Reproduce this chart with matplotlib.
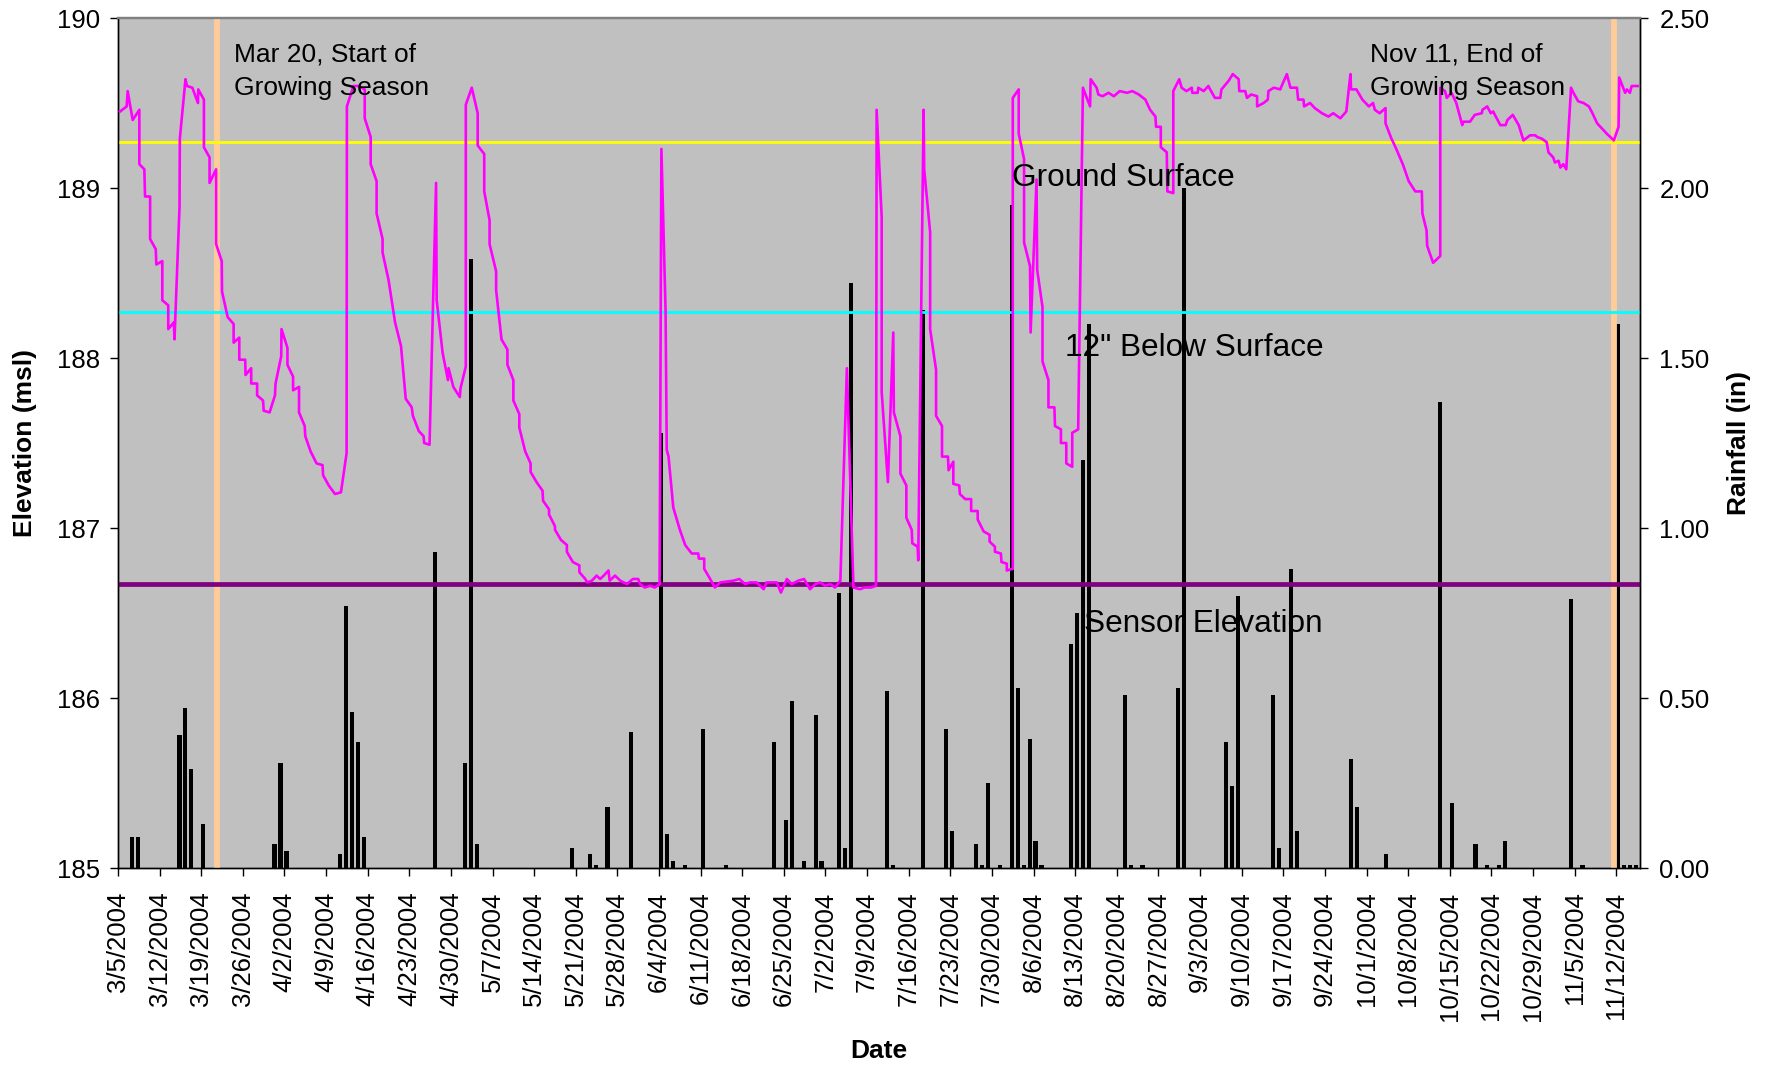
import datetime as dt
import matplotlib
matplotlib.use("Agg")
import matplotlib.pyplot as plt

plt.rcParams['font.family'] = ['Liberation Sans', 'DejaVu Sans']

START = dt.date(2004, 3, 5)
DAYS_SHOWN = 256

# Water table elevation (ft msl) vs. days since START
level_day = [
    0.34, 1.46, 1.63, 2.47, 3.59, 3.59, 4.43, 4.55, 5.40, 5.40, 6.35, 6.45, 7.45, 7.45, 8.45, 8.45,
    9.40, 9.50, 10.35, 10.40, 11.35, 11.60, 12.50, 13.45, 13.50, 14.45, 14.45, 15.40, 15.40, 16.50,
    16.50, 17.45, 17.50, 18.45, 19.45, 19.45, 20.40, 20.40, 21.40, 21.45, 22.40, 22.40, 23.40, 23.40,
    24.40, 24.50, 25.50, 26.40, 26.50, 27.45, 27.50, 28.50, 28.50, 29.45, 29.45, 30.45, 30.45, 31.40,
    31.50, 32.40, 33.40, 34.40, 34.50, 35.45, 36.50, 37.50, 38.45, 38.50, 39.60, 40.40, 41.50, 41.50,
    42.50, 42.50, 43.50, 43.50, 44.50, 44.50, 45.50, 46.60, 47.60, 48.40, 49.40, 49.60, 50.60, 51.40,
    51.50, 52.40, 53.50, 53.60, 54.60, 55.50, 55.60, 56.40, 57.50, 57.60, 58.50, 58.50, 59.50, 60.50,
    60.50, 61.60, 61.60, 62.50, 62.50, 63.60, 63.60, 64.50, 65.50, 65.50, 66.50, 66.50, 67.50, 67.50,
    68.50, 69.40, 69.40, 70.40, 71.40, 71.50, 72.50, 72.50, 73.50, 73.50, 74.50, 75.50, 75.50, 76.50,
    77.60, 77.60, 78.60, 78.90, 79.70, 80.50, 81.10, 81.70, 82.50, 82.70, 83.60, 84.50, 85.60, 86.60,
    87.50, 87.80, 88.60, 89.50, 90.30, 91.10, 91.40, 92.10, 92.30, 92.60, 93.40, 94.50, 95.40, 96.50,
    97.60, 97.70, 98.60, 98.60, 99.60, 100.40, 101.30, 103.50, 104.50, 105.50, 106.30, 107.40, 108.60,
    109.10, 110.80, 111.50, 112.50, 113.30, 114.40, 115.40, 116.40, 117.30, 118.10, 118.90, 119.80,
    120.60, 121.50, 122.60, 123.70, 124.80, 125.60, 126.70, 127.50, 127.60, 128.45, 128.45, 129.50,
    130.40, 130.50, 131.60, 131.60, 132.60, 132.60, 133.50, 133.60, 134.50, 134.60, 135.50, 135.60,
    136.60, 136.60, 137.60, 137.60, 138.60, 138.60, 139.60, 139.70, 140.50, 140.50, 141.50, 141.60,
    142.50, 143.50, 143.50, 144.60, 144.60, 145.60, 146.60, 146.60, 147.50, 147.50, 148.50, 148.60,
    149.50, 149.50, 150.50, 150.50, 151.50, 151.50, 152.40, 152.40, 153.40, 153.50, 154.50, 154.60,
    155.50, 155.50, 156.50, 156.50, 157.50, 157.60, 158.60, 158.60, 159.50, 159.50, 160.50, 160.50,
    161.50, 162.30, 163.50, 163.60, 164.60, 164.90, 165.60, 166.60, 167.50, 168.50, 169.70, 170.60,
    171.70, 172.80, 173.60, 174.50, 174.60, 175.40, 175.40, 176.40, 176.50, 177.50, 177.50, 178.50,
    178.90, 179.70, 180.60, 180.70, 181.60, 181.70, 182.60, 183.40, 183.70, 184.50, 185.40, 185.60,
    186.80, 187.50, 188.50, 188.60, 189.60, 189.90, 190.60, 191.60, 191.60, 192.70, 193.40, 193.50,
    194.40, 195.50, 195.60, 196.60, 197.20, 198.30, 198.50, 199.40, 199.50, 200.50, 201.30, 202.50,
    203.60, 204.40, 205.60, 206.60, 207.30, 207.40, 208.30, 209.30, 210.40, 211.10, 211.40, 212.20,
    213.20, 213.20, 214.20, 215.00, 216.10, 217.10, 218.20, 219.30, 219.40, 220.10, 220.20, 221.20,
    222.40, 222.40, 223.20, 223.50, 224.30, 225.10, 226.10, 226.30, 227.40, 228.20, 229.40, 229.50,
    230.30, 230.90, 231.30, 232.50, 233.40, 233.70, 234.60, 235.60, 236.40, 237.50, 238.40, 238.70,
    239.50, 240.30, 240.60, 241.40, 241.70, 242.30, 242.60, 243.10, 243.60, 244.40, 244.80, 245.60,
    246.50, 247.40, 248.00, 248.80, 249.60, 250.40, 251.60, 252.40, 252.50, 253.50, 253.80, 254.30,
    254.60, 255.60,
]
level_elev = [
    189.45, 189.48, 189.57, 189.40, 189.46, 189.14, 189.11, 188.95, 188.95, 188.70, 188.64, 188.55,
    188.57, 188.34, 188.31, 188.17, 188.21, 188.11, 188.89, 189.29, 189.64, 189.60, 189.59, 189.50,
    189.58, 189.52, 189.24, 189.18, 189.03, 189.11, 188.67, 188.57, 188.39, 188.24, 188.20, 188.09,
    188.12, 187.99, 187.99, 187.90, 187.94, 187.85, 187.85, 187.78, 187.75, 187.69, 187.68, 187.78,
    187.85, 188.01, 188.17, 188.06, 187.96, 187.89, 187.81, 187.83, 187.68, 187.60, 187.54, 187.45,
    187.38, 187.37, 187.31, 187.25, 187.20, 187.21, 187.44, 189.48, 189.60, 189.60, 189.58, 189.41,
    189.30, 189.14, 189.04, 188.85, 188.70, 188.62, 188.46, 188.21, 188.07, 187.76, 187.71, 187.66,
    187.57, 187.54, 187.50, 187.49, 189.03, 188.34, 188.03, 187.87, 187.94, 187.83, 187.77, 187.82,
    187.95, 189.49, 189.59, 189.44, 189.25, 189.20, 188.98, 188.81, 188.67, 188.51, 188.40, 188.11,
    188.05, 187.96, 187.87, 187.75, 187.67, 187.59, 187.45, 187.38, 187.33, 187.27, 187.22, 187.16,
    187.11, 187.08, 187.01, 186.99, 186.93, 186.90, 186.86, 186.80, 186.78, 186.74, 186.70, 186.68,
    186.69, 186.72, 186.70, 186.72, 186.75, 186.69, 186.72, 186.69, 186.67, 186.70, 186.70, 186.67,
    186.65, 186.66, 186.65, 186.67, 189.23, 188.28, 187.46, 187.42, 187.12, 186.99, 186.90, 186.85,
    186.85, 186.82, 186.82, 186.76, 186.70, 186.65, 186.68, 186.69, 186.70, 186.67, 186.68, 186.68,
    186.64, 186.68, 186.68, 186.62, 186.70, 186.67, 186.69, 186.70, 186.64, 186.67, 186.68, 186.66,
    186.67, 186.65, 186.69, 187.94, 186.65, 186.64, 186.65, 186.65, 186.66, 189.46, 188.83, 187.80,
    187.27, 188.15, 187.68, 187.54, 187.32, 187.25, 187.06, 186.99, 186.91, 186.89, 186.81, 189.46,
    189.11, 188.74, 188.17, 187.93, 187.66, 187.60, 187.42, 187.42, 187.34, 187.39, 187.26, 187.25,
    187.20, 187.17, 187.17, 187.10, 187.10, 187.05, 186.98, 186.96, 186.92, 186.89, 186.86, 186.85,
    186.80, 186.79, 186.75, 186.76, 189.53, 189.58, 189.32, 189.17, 188.68, 188.54, 188.15, 189.05,
    188.52, 188.30, 187.98, 187.87, 187.71, 187.71, 187.60, 187.58, 187.50, 187.50, 187.38, 187.36,
    187.56, 187.58, 189.59, 189.48, 189.64, 189.59, 189.55, 189.54, 189.56, 189.54, 189.57, 189.56,
    189.57, 189.55, 189.52, 189.46, 189.42, 189.36, 189.36, 189.24, 189.21, 188.98, 188.97, 189.57,
    189.64, 189.59, 189.57, 189.59, 189.56, 189.56, 189.59, 189.57, 189.60, 189.58, 189.53, 189.53,
    189.58, 189.63, 189.67, 189.64, 189.57, 189.57, 189.53, 189.55, 189.54, 189.48, 189.50, 189.52,
    189.57, 189.59, 189.58, 189.59, 189.67, 189.59, 189.59, 189.52, 189.52, 189.48, 189.50, 189.47,
    189.44, 189.42, 189.44, 189.41, 189.45, 189.67, 189.58, 189.58, 189.52, 189.48, 189.50, 189.46,
    189.44, 189.47, 189.38, 189.29, 189.23, 189.14, 189.04, 188.98, 188.98, 188.85, 188.75, 188.66,
    188.56, 188.60, 189.59, 189.57, 189.53, 189.56, 189.50, 189.37, 189.39, 189.39, 189.43, 189.44,
    189.46, 189.48, 189.44, 189.45, 189.37, 189.37, 189.40, 189.43, 189.37, 189.28, 189.31, 189.31,
    189.30, 189.29, 189.27, 189.21, 189.18, 189.15, 189.16, 189.12, 189.14, 189.11, 189.59, 189.56,
    189.51, 189.50, 189.48, 189.44, 189.38, 189.35, 189.32, 189.28, 189.36, 189.65, 189.56, 189.58,
    189.56, 189.60, 189.60,
]

# Daily rainfall (in), recorded at 8 AM; day index since START
rain_day = [
    2, 3, 10, 11, 12, 14, 26, 27, 28, 37, 38, 39, 40, 41, 53, 58, 59, 60, 76, 79, 80, 82, 86,
    91, 92, 93, 95, 98, 102, 110, 112, 113, 115, 117, 118, 121, 122, 123, 129, 130, 135, 139,
    140, 144, 145, 146, 148, 150, 151, 152, 153, 154, 155, 160, 161, 162, 163, 169, 170, 172,
    178, 179, 186, 187, 188, 194, 195, 197, 198, 207, 208, 213, 222, 224, 228, 230, 232, 233,
    244, 246, 252, 253, 254, 255,
]
rain_in = [
    0.09, 0.09, 0.39, 0.47, 0.29, 0.13, 0.07, 0.31, 0.05, 0.04, 0.77, 0.46, 0.37, 0.09, 0.93,
    0.31, 1.79, 0.07, 0.06, 0.04, 0.01, 0.18, 0.40, 1.28, 0.10, 0.02, 0.01, 0.41, 0.01, 0.37,
    0.14, 0.49, 0.02, 0.45, 0.02, 0.81, 0.06, 1.72, 0.52, 0.01, 1.64, 0.41, 0.11, 0.07, 0.01,
    0.25, 0.01, 1.95, 0.53, 0.01, 0.38, 0.08, 0.01, 0.66, 0.75, 1.20, 1.60, 0.51, 0.01, 0.01,
    0.53, 2.00, 0.37, 0.24, 0.80, 0.51, 0.06, 0.88, 0.11, 0.32, 0.18, 0.04, 1.37, 0.19, 0.07,
    0.01, 0.01, 0.08, 0.79, 0.01, 1.60, 0.01, 0.01, 0.01,
]
RAIN_HOUR = 8 / 24

# Reference elevations (ft msl)
ground_surface = 189.27
below_surface_12in = 188.27
sensor_elevation = 186.67

# Growing-season markers (days since START)
season_mark_day = [16.65, 251.6]

fig = plt.figure(figsize=(17.74, 10.68), dpi=100)
ax = fig.add_axes([118 / 1774, 1 - 868 / 1068, 1522 / 1774, 850 / 1068])
ax_rain = ax.twinx()

# rain axis sits underneath and carries the grey plot background
ax.set_zorder(ax_rain.get_zorder() + 1)
ax.patch.set_visible(False)
ax_rain.patch.set_visible(True)
ax_rain.patch.set_facecolor('#C0C0C0')

ax_rain.bar([d + RAIN_HOUR for d in rain_day], rain_in, width=0.7,
            color='black', linewidth=0, zorder=2)
ax_rain.set_ylim(0, 2.5)
ax_rain.set_yticks([0, 0.5, 1.0, 1.5, 2.0, 2.5])
ax_rain.set_yticklabels([f"{v:.2f}" for v in [0, 0.5, 1.0, 1.5, 2.0, 2.5]])

for d in season_mark_day:
    ax.axvline(d, color='#FFCC99', linewidth=4.2, zorder=1)

ax.axhline(ground_surface, color='#FFFF00', linewidth=2.0, zorder=2)
ax.axhline(below_surface_12in, color='#00FFFF', linewidth=2.0, zorder=2)
ax.axhline(sensor_elevation, color='#800080', linewidth=3.4, zorder=2)
ax.plot(level_day, level_elev, color='#FF00FF', linewidth=1.9, zorder=3)

ax.set_xlim(0, DAYS_SHOWN)
ax.set_ylim(185, 190)
ax.set_yticks(range(185, 191))

tick_days = list(range(0, DAYS_SHOWN, 7))
tick_labels = []
for d in tick_days:
    day = START + dt.timedelta(days=d)
    tick_labels.append(f"{day.month}/{day.day}/{day.year}")
ax.set_xticks(tick_days)
ax.set_xticklabels(tick_labels, rotation=90)

tick_font = 18.5
ax.tick_params(axis='y', direction='out', length=6, width=1, pad=7, labelsize=tick_font)
ax.tick_params(axis='x', direction='out', length=6, width=1, pad=11, labelsize=tick_font)
ax_rain.tick_params(axis='y', direction='out', length=6, width=1, pad=8, labelsize=tick_font)

for a in (ax, ax_rain):
    for side in ('left', 'right', 'bottom'):
        a.spines[side].set_color('black')
        a.spines[side].set_linewidth(1.0)
    a.spines['top'].set_color('#808080')
    a.spines['top'].set_linewidth(1.6)

ax.set_ylabel("Elevation (msl)", fontsize=19, fontweight='bold')
ax.yaxis.set_label_coords(-0.053, 0.5)
ax_rain.set_ylabel("Rainfall (in)", fontsize=19, fontweight='bold')
ax_rain.yaxis.set_label_coords(1.057, 0.5)
ax.set_xlabel("Date", fontsize=19, fontweight='bold')
ax.xaxis.set_label_coords(0.5, -0.201)

note_font = 19
ax.text(19.5, 189.855, "Mar 20, Start of\nGrowing Season", fontsize=note_font,
        ha='left', va='top', linespacing=1.48, zorder=5)
ax.text(210.6, 189.855, "Nov 11, End of\nGrowing Season", fontsize=note_font,
        ha='left', va='top', linespacing=1.48, zorder=5)

label_font = 22.7
ax.text(150.35, 189.009, "Ground Surface", fontsize=label_font, ha='left', va='baseline', zorder=5)
ax.text(159.3, 188.014, "12\" Below Surface", fontsize=label_font, ha='left', va='baseline', zorder=5)
ax.text(162.4, 186.388, "Sensor Elevation", fontsize=label_font, ha='left', va='baseline', zorder=5)

fig.savefig("out.png", dpi=100)
